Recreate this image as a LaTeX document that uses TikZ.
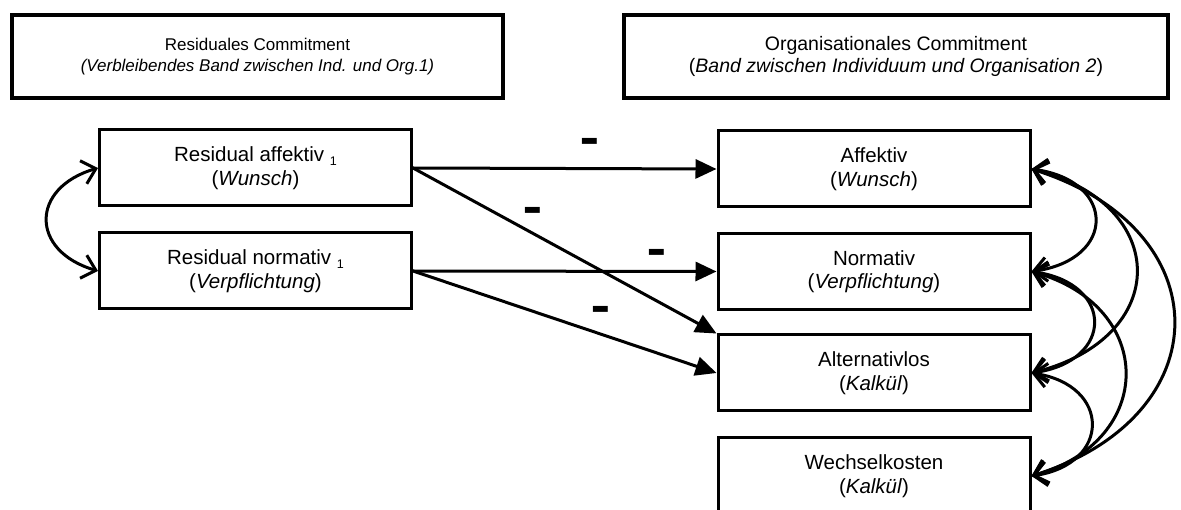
\documentclass[tikz,border=0pt]{standalone}
\usepackage{fontspec}
\setmainfont{Liberation Sans}
\usetikzlibrary{arrows.meta}
\newcommand\mysub[1]{{\fontsize{12.5}{12.5}\selectfont\raisebox{-3.5pt}{#1}}}
\begin{document}
\begin{tikzpicture}[x=1pt,y=-1pt,
  hdr/.style={draw, line width=3.5pt, minimum height=83pt, align=center, inner sep=0pt},
  var/.style={draw, line width=3pt, minimum width=312pt, minimum height=76pt, align=center, inner sep=0pt, font=\fontsize{20.5}{23.5}\selectfont},
  reg/.style={line width=3pt, -{Triangle[length=21pt,width=19pt]}},
  cov/.style={line width=3pt, {Straight Barb[length=13pt,width=24pt]}-{Straight Barb[length=13pt,width=24pt]}},
  neg/.style={font=\bfseries\fontsize{30}{30}\selectfont, inner sep=0pt}
]
\useasboundingbox (0,0) rectangle (1181,510);
% header boxes
\node[hdr, minimum width=491pt, font=\fontsize{17}{20.5}\selectfont] (hl) at (257.5,56.5) {Residuales Commitment\\\textit{(Verbleibendes Band zwischen Ind. und Org.1)}};
\node[hdr, minimum width=544pt, font=\fontsize{19.5}{22.5}\selectfont] (hr) at (896,56.5) {Organisationales Commitment\\(\textit{Band zwischen Individuum und Organisation 2})};
% variables
\node[var] (ra) at (255.5,168) {Residual affektiv \mysub{1}\\(\textit{Wunsch})};
\node[var] (rn) at (255.5,271) {Residual normativ \mysub{1}\\(\textit{Verpflichtung})};
\node[var] (af) at (874,169) {Affektiv\\(\textit{Wunsch})};
\node[var] (no) at (874,271.5) {Normativ\\(\textit{Verpflichtung})};
\node[var] (al) at (874,373) {Alternativlos\\(\textit{Kalkül})};
\node[var] (we) at (874,476) {Wechselkosten\\(\textit{Kalkül})};
% regressions
\draw[reg] (ra.east) -- (af.west);
\draw[reg] (ra.east) -- (al.north west);
\draw[reg] (rn.east) -- (no.west);
\draw[reg] (rn.east) -- (al.west);
% minus labels
\node[neg] (m1) at (590,147.5) {\scalebox{1}[2]{–}};
\node[neg] (m2) at (533,217) {\scalebox{1}[2]{–}};
\node[neg] (m3) at (657,259) {\scalebox{1}[2]{–}};
\node[neg] (m4) at (601,316) {\scalebox{1}[2]{–}};
% covariances
\draw[cov] (ra.west) .. controls +(-68,20) and +(-68,-20) .. (rn.west);
\draw[cov] (af.east) .. controls +(85,12) and +(85,-12) .. (no.east);
\draw[cov] (af.east) .. controls +(140,35) and +(140,-35) .. (al.east);
\draw[cov] (af.east) .. controls +(190,60) and +(190,-60) .. (we.east);
\draw[cov] (no.east) .. controls +(83,12) and +(83,-12) .. (al.east);
\draw[cov] (no.east) .. controls +(125,35) and +(125,-35) .. (we.east);
\draw[cov] (al.east) .. controls +(80,12) and +(80,-12) .. (we.east);
\end{tikzpicture}
\end{document}
